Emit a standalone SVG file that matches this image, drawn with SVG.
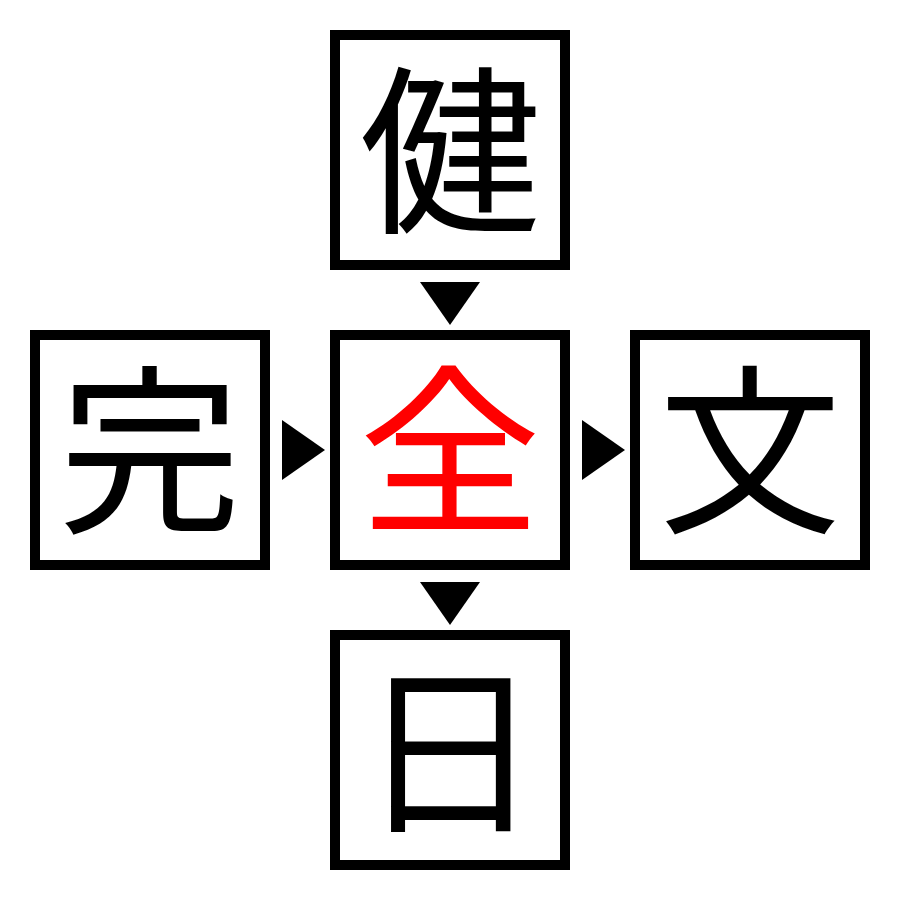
<svg xmlns="http://www.w3.org/2000/svg" width="900" height="900" viewBox="0 0 900 900">
<style>
.box{fill:#fff;stroke:#000;stroke-width:10}
.ch{font-family:"Noto Sans CJK JP","Noto Sans CJK SC",sans-serif;font-size:182px;text-anchor:middle;fill:#000}
.red{fill:#f00}
.arr{fill:#000}
</style>
<rect width="900" height="900" fill="#fff"/>
<g id="connectors">
<polygon class="arr" points="420,282 480,282 450,325"/>
<polygon class="arr" points="282,420 282,480 325,450"/>
<polygon class="arr" points="582,420 582,480 625,450"/>
<polygon class="arr" points="420,582 480,582 450,625"/>
</g>
<g id="node-top"><rect class="box" x="335" y="35" width="230" height="230"/><text class="ch" x="450" y="219">健</text></g>
<g id="node-left"><rect class="box" x="35" y="335" width="230" height="230"/><text class="ch" x="150" y="519">完</text></g>
<g id="node-center"><rect class="box" x="335" y="335" width="230" height="230"/><text class="ch red" x="450" y="519">全</text></g>
<g id="node-right"><rect class="box" x="635" y="335" width="230" height="230"/><text class="ch" x="750" y="519">文</text></g>
<g id="node-bottom"><rect class="box" x="335" y="635" width="230" height="230"/><text class="ch" x="450" y="819">日</text></g>
</svg>
